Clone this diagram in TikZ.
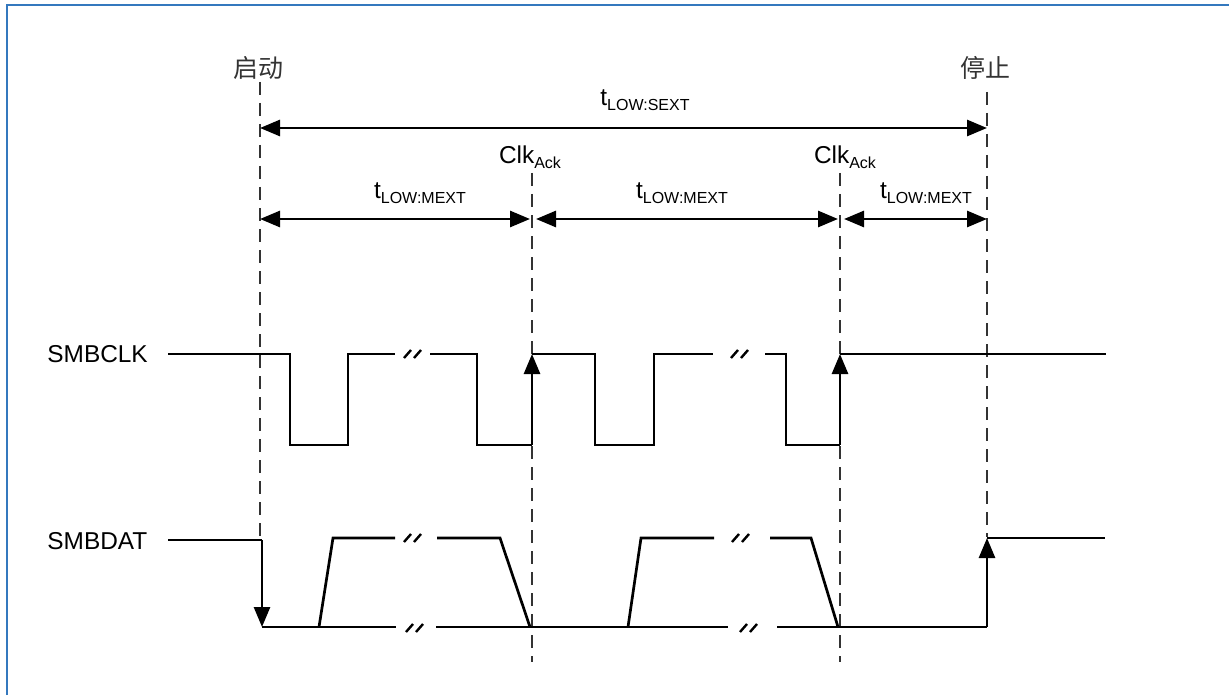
\documentclass[tikz,border=0pt]{standalone}
\usepackage{fontspec}
\setmainfont{Liberation Sans}
\newfontfamily\cjkfont{Noto Sans CJK SC}
\usetikzlibrary{arrows.meta}
\definecolor{framecol}{RGB}{52,120,190}
\newcommand{\tlow}[1]{t\raisebox{-0.35ex}{\fontsize{8}{9}\selectfont #1}}
\newcommand{\clkack}{Clk\raisebox{-0.35ex}{\fontsize{8}{9}\selectfont Ack}}
\begin{document}
\begin{tikzpicture}[x=0.5pt,y=-0.5pt,
  sig/.style={line width=1.35pt, line join=miter},
  guide/.style={line width=1.15pt, dash pattern=on 6.5pt off 4pt, draw=black!80},
  dimarrow/.style={line width=1.4pt, {Triangle[length=10pt,width=8pt]}-{Triangle[length=10pt,width=8pt]}},
  edgearrow/.style={sig, -{Triangle[length=10pt,width=8pt]}},
  lbl/.style={inner sep=0pt, font=\fontsize{12.2}{14}\selectfont},
  cjklbl/.style={inner sep=0pt, text=black!80, font=\cjkfont\fontsize{12.5}{14}\selectfont},
  brkmark/.pic={\draw[line width=1.2pt] (-9,4) -- (-2,-4) (1,4) -- (8,-4);}]
\useasboundingbox (0,0) rectangle (1229,695);
\fill[white] (0,0) rectangle (1229,695);
\draw[line width=1.4pt, draw=framecol] (7,695) -- (7,5) -- (1229,5);

% labels
\node[cjklbl] (start) at (258,68) {启动};
\node[cjklbl] (stop) at (985,68) {停止};
\node[lbl] (sext) at (645,100) {\tlow{LOW:SEXT}};
\node[lbl] (ack1) at (530,157) {\clkack};
\node[lbl] (ack2) at (845,157) {\clkack};
\node[lbl] (mext1) at (420,193) {\tlow{LOW:MEXT}};
\node[lbl] (mext2) at (682,193) {\tlow{LOW:MEXT}};
\node[lbl] (mext3) at (926,193) {\tlow{LOW:MEXT}};
\node[lbl, anchor=west] (clk) at (47,354) {SMBCLK};
\node[lbl, anchor=west] (dat) at (47,541) {SMBDAT};

% guide coordinates
\coordinate (g0t) at (260,82);  \coordinate (g0b) at (260,537);
\coordinate (g1t) at (532,173); \coordinate (g1b) at (532,662);
\coordinate (g2t) at (840,173); \coordinate (g2b) at (840,662);
\coordinate (g3t) at (987,92);  \coordinate (g3b) at (987,537);
\draw[guide] (g0t) -- (g0b);
\draw[guide] (g1t) -- (g1b);
\draw[guide] (g2t) -- (g2b);
\draw[guide] (g3t) -- (g3b);

% dimension arrows
\coordinate (s0) at (260,128); \coordinate (s1) at (987,128);
\coordinate (m0) at (260,219); \coordinate (m1) at (532,219);
\coordinate (m2) at (840,219); \coordinate (m3) at (987,219);
\draw[dimarrow] (s0) -- (s1);
\draw[dimarrow] (m0) -- ([xshift=-1]m1);
\draw[dimarrow] ([xshift=2]m1) -- ([xshift=-1]m2);
\draw[dimarrow] ([xshift=2]m2) -- (m3);

% SMBCLK
\draw[sig] (168,354) -- (290,354) -- (290,445) -- (348,445) -- (348,354) -- (395,354);
\draw[sig] (430,354) -- (477,354) -- (477,445) -- (532,445);
\draw[edgearrow] (532,445) -- (532,354);
\draw[sig] (532,354) -- (595,354) -- (595,445) -- (654,445) -- (654,354) -- (713,354);
\draw[sig] (765,354) -- (786,354) -- (786,445) -- (840,445);
\draw[edgearrow] (840,445) -- (840,354);
\draw[sig] (840,354) -- (1106,354);
\pic at (413,354) {brkmark};
\pic at (740,354) {brkmark};

% SMBDAT
\draw[sig] (168,540) -- (262,540);
\draw[edgearrow] (262,540) -- (262,627);
\draw[sig] (262,627) -- (396,627);
\draw[sig] (319,627) -- (333,538) -- (395,538);
\draw[sig] (437,538) -- (500,538) -- (530,627);
\draw[sig] (436,627) -- (728,627);
\draw[sig] (628,627) -- (641,538) -- (714,538);
\draw[sig] (770,538) -- (811,538) -- (838,627);
\draw[sig] (777,627) -- (987,627);
\draw[edgearrow] (987,627) -- (987,538);
\draw[sig] (987,538) -- (1105,538);
\pic at (413,538) {brkmark};
\pic at (415,628) {brkmark};
\pic at (741,538) {brkmark};
\pic at (749,628) {brkmark};
\end{tikzpicture}
\end{document}
